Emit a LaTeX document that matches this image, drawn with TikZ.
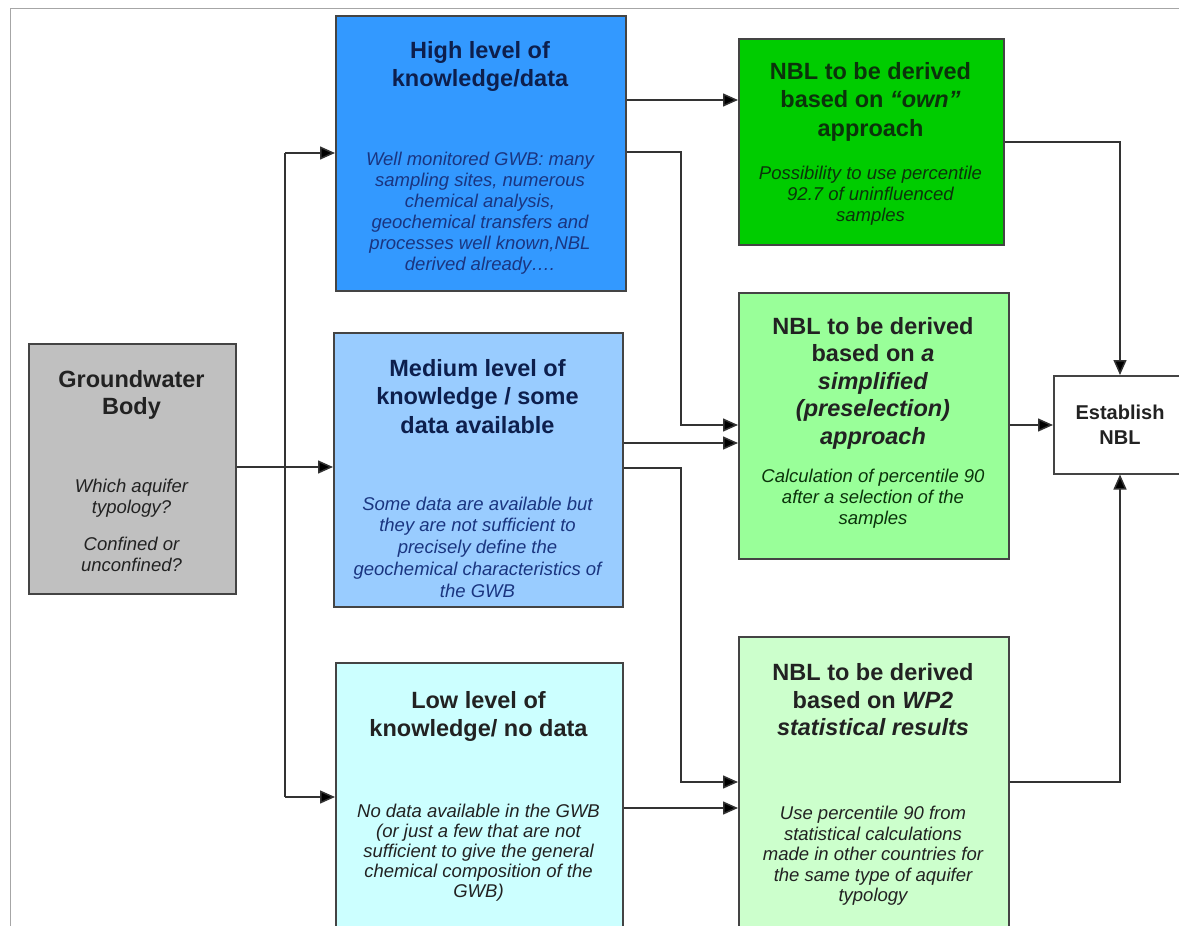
\documentclass[tikz,border=0pt]{standalone}
\usepackage{fontspec}
\setmainfont{Liberation Sans}
\usetikzlibrary{arrows.meta}
\definecolor{gwfill}{HTML}{C0C0C0}
\definecolor{highfill}{HTML}{3399FF}
\definecolor{medfill}{HTML}{99CCFF}
\definecolor{lowfill}{HTML}{CCFFFF}
\definecolor{ownfill}{HTML}{00CC00}
\definecolor{simpfill}{HTML}{99FF99}
\definecolor{wpfill}{HTML}{CCFFCC}
\definecolor{boxline}{HTML}{444444}
\definecolor{linecol}{HTML}{333333}
\definecolor{navytext}{HTML}{0D1F4D}
\definecolor{bluetext}{HTML}{1A3580}
\definecolor{greentext}{HTML}{0B330B}
\definecolor{darktext}{HTML}{222222}
\begin{document}
\begin{tikzpicture}[x=1pt,y=-1pt,
  box/.style={draw=boxline,line width=1.5pt,inner sep=0pt,anchor=north west},
  ttl/.style={align=center,inner sep=0pt,font=\fontsize{23.5}{27.5}\selectfont\bfseries},
  bodytxt/.style={align=center,inner sep=0pt,font=\fontsize{18.5}{21}\selectfont\itshape},
  conn/.style={draw=linecol,line width=1.5pt},
  arr/.style={conn,-{Triangle[length=15pt,width=13pt,fill=black]}}]
\clip (0,0) rectangle (1179,926);
\useasboundingbox (0,0) rectangle (1179,926);
\fill[white] (0,0) rectangle (1179,926);
\draw[gray!70,line width=1pt] (10,926) -- (10,8) -- (1179,8);

% boxes
\node[box,fill=gwfill,minimum width=207pt,minimum height=250pt] (gw) at (28,343) {};
\node[box,fill=highfill,minimum width=290pt,minimum height=275pt] (high) at (335,15) {};
\node[box,fill=medfill,minimum width=289pt,minimum height=274pt] (med) at (333,332) {};
\node[box,fill=lowfill,minimum width=287pt,minimum height=290pt] (low) at (335,662) {};
\node[box,fill=ownfill,minimum width=265pt,minimum height=206pt] (own) at (738,38) {};
\node[box,fill=simpfill,minimum width=270pt,minimum height=266pt] (simp) at (738,292) {};
\node[box,fill=wpfill,minimum width=270pt,minimum height=320pt] (wp) at (738,636) {};
\node[box,fill=white,minimum width=160pt,minimum height=98pt] (est) at (1053,375) {};

% texts
\node[ttl,text=darktext] (gwt) at (131.5,395) {Groundwater\\Body};
\node[bodytxt,text=darktext] (gwb1) at (131.5,498) {Which aquifer\\typology?};
\node[bodytxt,text=darktext] (gwb2) at (131.5,554) {Confined or\\unconfined?};

\node[ttl,text=navytext] (hight) at (480,66.5) {High level of\\knowledge/data};
\node[bodytxt,text=bluetext] (highb) at (480,213) {Well monitored GWB: many\\sampling sites, numerous\\chemical analysis,\\geochemical transfers and\\processes well known,NBL\\derived already\dots.};

\node[ttl,text=navytext,font=\fontsize{23.5}{28.5}\selectfont\bfseries] (medt) at (477.5,396.5) {Medium level of\\knowledge / some\\data available};
\node[bodytxt,text=bluetext,font=\fontsize{18.5}{21.7}\selectfont\itshape] (medb) at (477.5,547) {Some data are available but\\they are not sufficient to\\precisely define the\\geochemical characteristics of\\the GWB};

\node[ttl,text=darktext] (lowt) at (478.5,716.5) {Low level of\\knowledge/ no data};
\node[bodytxt,text=darktext,font=\fontsize{18.5}{20}\selectfont\itshape] (lowb) at (478.5,853) {No data available in the GWB\\(or just a few that are not\\sufficient to give the general\\chemical composition of the\\GWB)};

\node[ttl,text=greentext,font=\fontsize{23.5}{28.5}\selectfont\bfseries] (ownt) at (870.5,101.5) {NBL to be derived\\based on \textit{``own''}\\approach};
\node[bodytxt,text=greentext] (ownb) at (870.5,196) {Possibility to use percentile\\92.7 of uninfluenced\\samples};

\node[ttl,text=darktext] (simpt) at (873,383) {NBL to be derived\\based on \textit{a}\\\textit{simplified}\\\textit{(preselection)}\\\textit{approach}};
\node[bodytxt,text=greentext] (simpb) at (873,499) {Calculation of percentile 90\\after a selection of the\\samples};

\node[ttl,text=darktext] (wpt) at (873,700) {NBL to be derived\\based on \textit{WP2}\\\textit{statistical results}};
\node[bodytxt,text=darktext,font=\fontsize{18.5}{20.5}\selectfont\itshape] (wpb) at (873,856) {Use percentile 90 from\\statistical calculations\\made in other countries for\\the same type of aquifer\\typology};

\node[align=center,inner sep=0pt,font=\fontsize{20}{25}\selectfont\bfseries,text=darktext] (estt) at (1120,424.5) {Establish\\NBL};

% junction coordinates
\coordinate (trunkTop) at (285,153);
\coordinate (trunkBot) at (285,797);
\coordinate (gwY) at (285,467);
\coordinate (ownY) at (0,100);
\coordinate (hA) at (681,152);
\coordinate (hB) at (681,425);
\coordinate (mY) at (0,443);
\coordinate (mA) at (681,468);
\coordinate (mB) at (681,782);
\coordinate (lY) at (0,808);
\coordinate (oA) at (1120,142);
\coordinate (wA) at (1120,782);

% connectors
\draw[conn] (trunkTop) -- (trunkBot);
\draw[arr] (gw.east |- gwY) -- (med.west |- gwY);
\draw[arr] (trunkTop) -- (high.west |- trunkTop);
\draw[arr] (trunkBot) -- (low.west |- trunkBot);
\draw[arr] (high.east |- ownY) -- (own.west |- ownY);
\draw[arr] (high.east |- hA) -- (hA) -- (hB) -- (simp.west |- hB);
\draw[arr] (med.east |- mY) -- (simp.west |- mY);
\draw[arr] (med.east |- mA) -- (mA) -- (mB) -- (wp.west |- mB);
\draw[arr] (low.east |- lY) -- (wp.west |- lY);
\draw[arr] (own.east |- oA) -- (oA) -- (est.north -| oA);
\draw[arr] (simp.east |- hB) -- (est.west |- hB);
\draw[arr] (wp.east |- wA) -- (wA) -- (est.south -| wA);
\end{tikzpicture}
\end{document}
